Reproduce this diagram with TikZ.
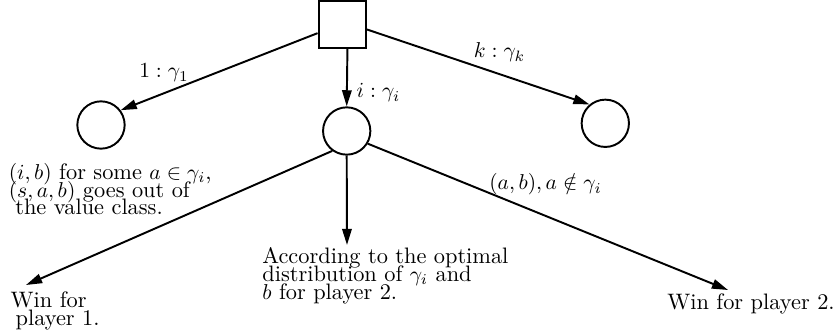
\documentclass[tikz,border=0pt]{standalone}
\usetikzlibrary{arrows.meta}

\begin{document}
\begin{tikzpicture}[x=0.465pt,y=-0.465pt,>={Triangle[length=7.5pt,width=4.4pt]},line width=0.9pt,
  state/.style={draw,circle,minimum size=22pt,inner sep=0pt},
  chooser/.style={draw,rectangle,minimum size=22pt,inner sep=0pt},
  lbl/.style={anchor=base,inner sep=0pt,font=\fontsize{10.4}{12}\selectfont},
  txt/.style={anchor=base west,align=left,inner sep=0pt,font={\fontsize{10.4}{8.2}\selectfont\lineskiplimit=-\maxdimen}}]
\useasboundingbox (0,0) rectangle (835,335);
\node[chooser] (sq) at (342.2,24.2) {};
\node[state] (c1) at (101,125) {};
\node[state] (ci) at (346.7,131) {};
\node[state] (ck) at (605.3,123.3) {};
\coordinate (w1) at (26,285); \coordinate (opt) at (347,245); \coordinate (w2) at (728,290);
\draw[->] (sq.200) -- (c1.37);
\draw[->] (sq.282) -- (ci.north);
\draw[->] (sq.348) -- (ck.130);
\draw[->] (ci.234) -- (w1);
\draw[->] (ci.south) -- (opt);
\draw[->] (ci.329) -- (w2);
% edge labels
\node[lbl] (l1) at (164,78) {$1:\gamma_1$};
\node[lbl] (li) at (378.5,98) {$i:\gamma_i$};
\node[lbl] (lk) at (499.5,58) {$k:\gamma_k$};
\node[lbl] (lab) at (545.5,190) {$(a,b), a\notin\gamma_i$};
% outcomes (base = last line)
\node[txt] (out) at (7.9,215) {$(i,b)$ for some $a\in\gamma_i$,\\$(s,a,b)$ goes out of\\\hspace*{3pt}the value class.};
\node[txt] (win1) at (9.7,325) {Win for\\\hspace*{2.3pt}player 1.};
\node[txt] (mix) at (261.4,299) {According to the optimal\\distribution of $\gamma_i$ and\\$b$ for player 2.};
\node[txt] (win2) at (666.4,309) {Win for player 2.};
\end{tikzpicture}
\end{document}
